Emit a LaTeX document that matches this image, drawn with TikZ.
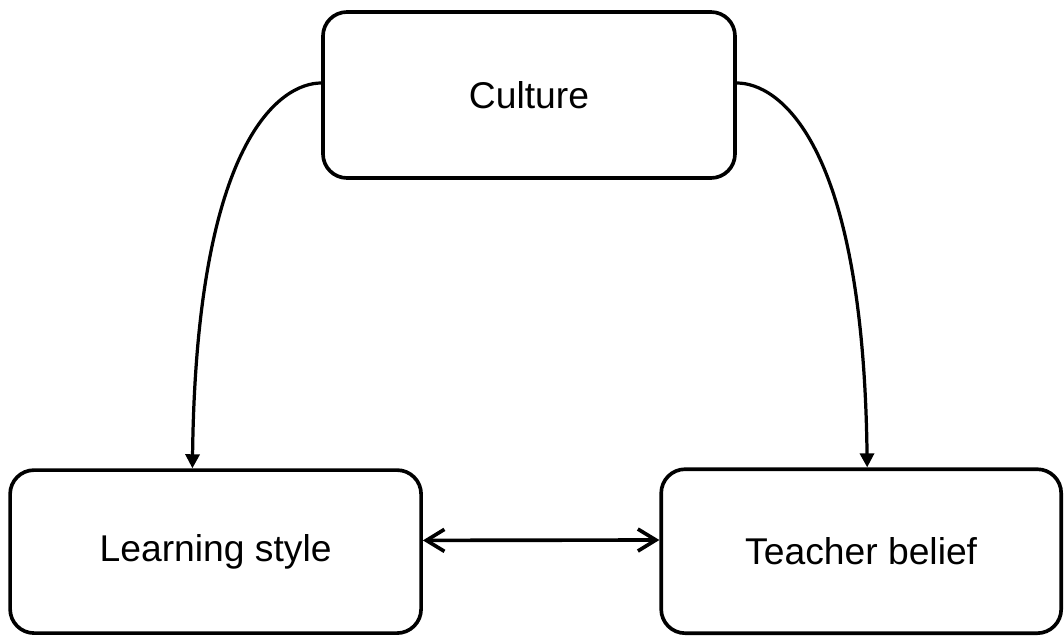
\documentclass[tikz,border=0pt]{standalone}
\usepackage{fontspec}
\setmainfont{Liberation Sans}
\usepackage{tikz}
\usetikzlibrary{positioning, arrows.meta}

\begin{document}
\begin{tikzpicture}[
        block/.style={
          rectangle,
          rounded corners=0.6cm,
          draw=black,
          line width=2.6pt,
          fill=white,
          align=center,
          font=\fontsize{26.5}{31}\selectfont
        },
        arrow/.style={
          -{Triangle[length=0.35cm, width=0.35cm]},
          line width=2.3pt,
          draw=black
        },
        link/.style={
          {Straight Barb[length=0.45cm, width=0.55cm]}-{Straight Barb[length=0.45cm, width=0.55cm]},
          line width=2.6pt,
          draw=black
        }
      ]

      \useasboundingbox (0,0) rectangle (26.6,-15.925);

      % Nodes
      \node [block, minimum width=10.3cm, minimum height=4.15cm] (culture) at (13.225,-2.375) {Culture};
      \node [block, minimum width=10.275cm, minimum height=4.075cm] (learning) at (5.39,-13.79) {Learning style};
      \node [block, minimum width=10cm, minimum height=4.1cm] (teacher) at (21.53,-13.78) {Teacher belief};

      % Curved Arrows
      \draw [arrow] ([yshift=0.3cm]culture.west) .. controls +(-1.0,0) and +(0.1,8.25) .. ([xshift=-0.58cm]learning.north);
      \draw [arrow] ([yshift=0.3cm]culture.east) .. controls +(1.0,0) and +(-0.1,8.25) .. ([xshift=0.15cm]teacher.north);

      % Two-way Arrow
      \draw [link] ([yshift=0.28cm]learning.east) -- ([yshift=0.28cm]teacher.west);

    \end{tikzpicture}
\end{document}
